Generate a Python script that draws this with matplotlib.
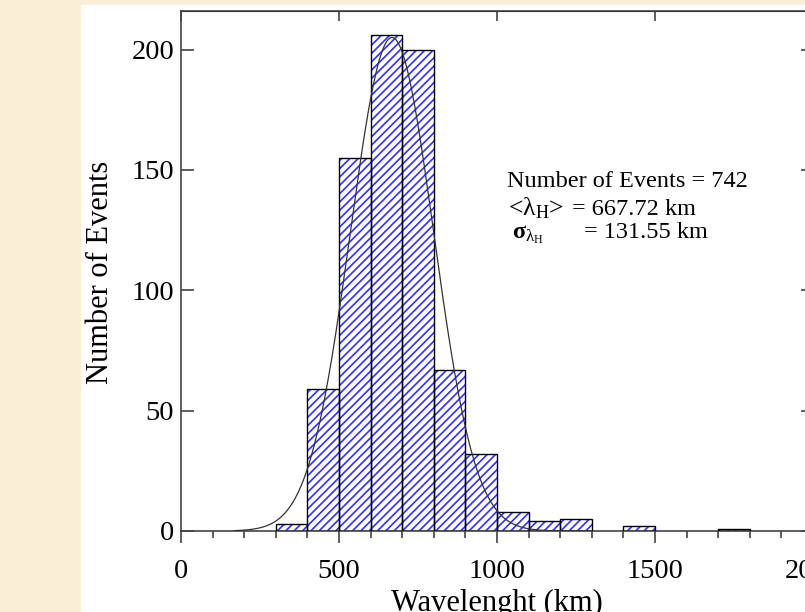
import numpy as np
import matplotlib
matplotlib.use("Agg")
import matplotlib.pyplot as plt
from matplotlib.patches import Rectangle
from matplotlib.ticker import MultipleLocator

plt.rcParams['font.family'] = ['Liberation Serif', 'DejaVu Serif']
plt.rcParams['mathtext.fontset'] = 'custom'
plt.rcParams['mathtext.rm'] = 'Liberation Serif'
plt.rcParams['mathtext.it'] = 'Liberation Serif:italic'
plt.rcParams['mathtext.bf'] = 'Liberation Serif:bold'
plt.rcParams['hatch.linewidth'] = 1.2

# histogram of wavelengths, 100 km bins
bin_left = [300, 400, 500, 600, 700, 800, 900, 1000, 1100, 1200, 1300, 1400, 1500, 1600, 1700]
counts = [3, 59, 155, 206, 200, 67, 32, 8, 4, 5, 0, 2, 0, 0, 1]
bin_width = 100

n_events = 742
mean_wl = 667.72
sigma_wl = 131.55
fit_peak = 205

xticks = [0, 500, 1000, 1500, 2000]
yticks = [0, 50, 100, 150, 200]

fig = plt.figure(figsize=(8.05, 6.12), dpi=100)
fig.patch.set_facecolor('#FBEED6')
fig.patches.append(Rectangle((81 / 805, 0), 1, 1 - 5 / 612, transform=fig.transFigure,
                             facecolor='white', edgecolor='none', zorder=-10))

ax = fig.add_axes([181 / 805, 1 - 531 / 612, 632 / 805, 520 / 612])
ax.set_zorder(1)
ax.set_facecolor('white')

left = [b for b, c in zip(bin_left, counts) if c > 0]
hts = [c for c in counts if c > 0]
ax.bar(left, hts, width=bin_width, align='edge', color='white', edgecolor='#3030ff',
       hatch='////', linewidth=0, zorder=2)
ax.bar(left, hts, width=bin_width, align='edge', fill=False, edgecolor='black',
       linewidth=1.0, zorder=3)

xs = np.linspace(170, 1300, 400)
ax.plot(xs, fit_peak * np.exp(-0.5 * ((xs - mean_wl) / sigma_wl) ** 2),
        color='#333333', lw=0.9, zorder=4)

ax.set_xlim(0, 2000)
ax.set_ylim(0, 216)
ax.set_xticks(xticks)
ax.set_yticks(yticks)
ax.xaxis.set_minor_locator(MultipleLocator(100))
ax.tick_params(axis='x', which='major', direction='out', length=8.5, width=1.1,
               labelsize=20.5, pad=12, color='#333333')
ax.tick_params(axis='x', which='minor', direction='out', length=5, width=1.1, color='#333333')
ax.tick_params(axis='y', which='major', direction='in', length=9, width=1.1,
               labelsize=20.5, pad=5, color='#333333')
for s in ax.spines.values():
    s.set_color('#444444')
    s.set_linewidth(1.2)

top = ax.secondary_xaxis('top')
top.set_xticks(xticks)
top.tick_params(direction='in', length=7, width=1.1, labeltop=False, color='#333333')
right = ax.secondary_yaxis('right')
right.set_yticks(yticks)
right.tick_params(direction='in', length=9, width=1.1, labelright=False, color='#333333')

fs = 17.5
ax.text(1032, 142.9, f'Number of Events = {n_events}', fontsize=fs, va='baseline')
ax.text(1035, 131.3, r'<$\mathrm{\lambda_{H}}$>', fontsize=18.5, va='baseline')
ax.text(1238, 131.3, f'= {mean_wl:.2f} km', fontsize=fs, va='baseline')
ax.text(1047, 121.7, r'$\mathbf{\sigma}_{\mathrm{\lambda_{H}}}$', fontsize=fs, va='baseline')
ax.text(1275, 121.7, f'= {sigma_wl:.2f} km', fontsize=fs, va='baseline')

fig.text(100 / 805, 1 - 272 / 612, 'Number of Events', rotation=90, fontsize=22,
         ha='center', va='center')
fig.text(497 / 805, 1 - 603 / 612, 'Wavelenght (km)', fontsize=22, ha='center', va='center')

fig.savefig('out.png', dpi=100)
